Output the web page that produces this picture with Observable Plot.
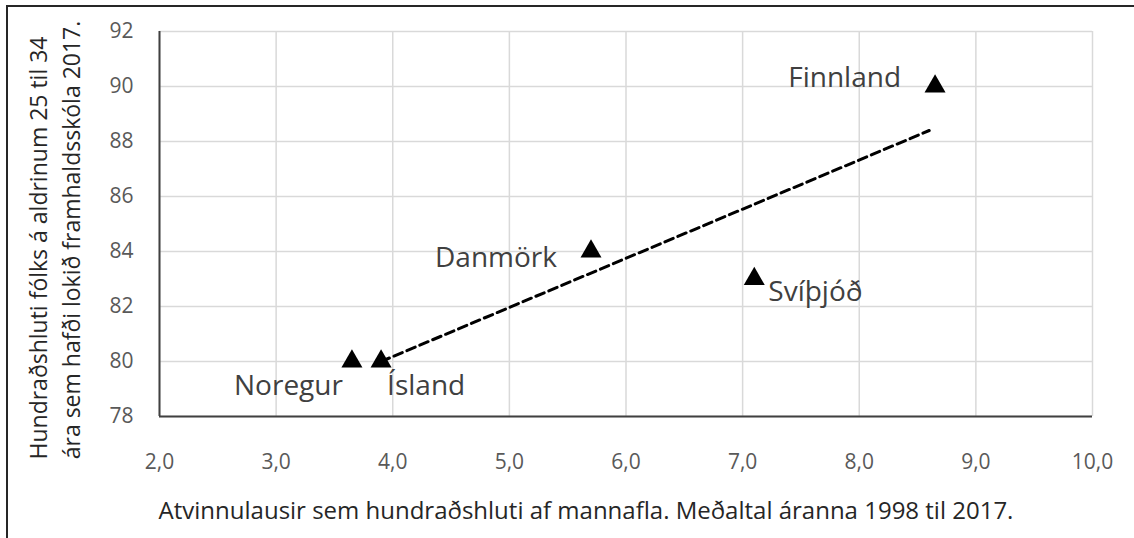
<!DOCTYPE html>
<html>
<head>
<meta charset="utf-8">
<script src="https://cdn.jsdelivr.net/npm/d3@7"></script>
<script src="https://cdn.jsdelivr.net/npm/@observablehq/plot@0.6"></script>
<style>
  html, body { margin: 0; padding: 0; background: #fff; }
  #wrap { position: relative; width: 1134px; height: 538px; overflow: hidden; }
  #frame { position: absolute; left: 6px; top: 5px; width: 1200px; height: 600px;
           border-top: 2px solid #262626; border-left: 2px solid #262626; pointer-events: none; }
  #chart { position: absolute; left: 0; top: 0; }
</style>
</head>
<body>
<div id="wrap"><div id="chart"></div><div id="frame"></div></div>
<script>
// ---- data ----
const countries = ["Noregur", "Ísland", "Danmörk", "Svíþjóð", "Finnland"];
const unemployment = [3.65, 3.9, 5.7, 7.1, 8.65];
const secondaryEducation = [80, 80, 84, 83, 90];
const trendX = [3.9, 8.6];
const trendY = [80.0, 88.4];
const xTicks = [2, 3, 4, 5, 6, 7, 8, 9, 10];
const yTicks = [78, 80, 82, 84, 86, 88, 90, 92];
const xTitle = "Atvinnulausir sem hundraðshluti af mannafla. Meðaltal áranna 1998 til 2017.";
const yTitle1 = "Hundraðshluti fólks á aldrinum 25 til 34";
const yTitle2 = "ára sem hafði lokið framhaldsskóla 2017.";

// ---- layout (label placement, not data) ----
const labelPlacement = {
  "Noregur":  {anchor: "end",   dx: -9,  dy: 25},
  "Ísland":   {anchor: "start", dx: 6,   dy: 25},
  "Danmörk":  {anchor: "end",   dx: -34, dy: 7},
  "Svíþjóð":  {anchor: "start", dx: 14,  dy: 13},
  "Finnland": {anchor: "end",   dx: -34, dy: -8}
};

const points = countries.map((c, i) => ({name: c, x: unemployment[i], y: secondaryEducation[i]}));
const trend = trendX.map((x, i) => ({x, y: trendY[i]}));

const font = "'Open Sans', 'Liberation Sans', sans-serif";
const fmt = d => d.toFixed(1).replace(".", ",");

const labelMarks = points.map(p => {
  const pl = labelPlacement[p.name];
  return Plot.text([p], {x: "x", y: "y", text: "name", textAnchor: pl.anchor,
    dx: pl.dx, dy: pl.dy, fontSize: 28, fill: "#404040"});
});

const chart = Plot.plot({
  width: 1134,
  height: 538,
  marginLeft: 159,
  marginRight: 42,
  marginTop: 31,
  marginBottom: 122,
  style: {fontFamily: font, fontSize: "21px", color: "#595959", background: "transparent"},
  x: {domain: [2, 10], ticks: xTicks, tickFormat: fmt},
  y: {domain: [78, 92], ticks: yTicks},
  marks: [
    Plot.gridX(xTicks, {stroke: "#d9d9d9", strokeOpacity: 1, strokeWidth: 1.5}),
    Plot.gridY(yTicks, {stroke: "#d9d9d9", strokeOpacity: 1, strokeWidth: 1.5}),
    Plot.axisX(xTicks, {tickSize: 0, tickPadding: 38, tickFormat: fmt, label: null, fill: "#595959", fontSize: 21}),
    Plot.axisY(yTicks, {tickSize: 0, tickPadding: 26, label: null, fill: "#595959", fontSize: 21}),
    Plot.ruleX([2], {stroke: "#404040", strokeWidth: 2}),
    Plot.ruleY([78], {stroke: "#404040", strokeWidth: 2}),
    Plot.line(trend, {x: "x", y: "y", stroke: "#000", strokeWidth: 3, strokeDasharray: "9,5"}),
    Plot.dot(points, {x: "x", y: "y", symbol: "triangle", r: 7.8, fill: "#000", stroke: "none"}),
    ...labelMarks,
    Plot.text([xTitle], {frameAnchor: "bottom", textAnchor: "middle", dx: -40, dy: 102, fontSize: 24, fill: "#262626"}),
    Plot.text([yTitle1], {frameAnchor: "left", textAnchor: "middle", rotate: -90, dx: -120, dy: 24, fontSize: 23, fill: "#262626"}),
    Plot.text([yTitle2], {frameAnchor: "left", textAnchor: "middle", rotate: -90, dx: -87, dy: 16, fontSize: 23, fill: "#262626"})
  ]
});
document.getElementById("chart").appendChild(chart);
</script>
</body>
</html>
